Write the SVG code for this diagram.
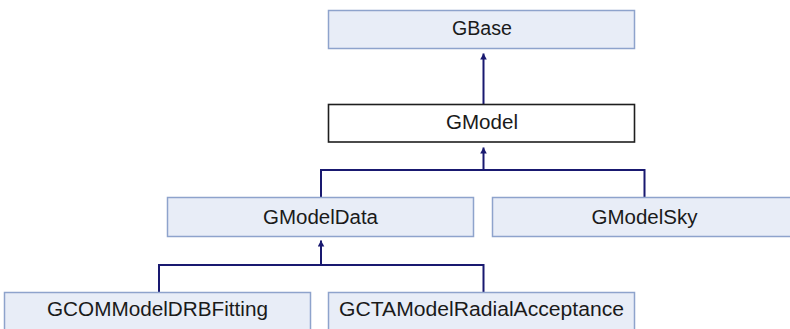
<svg xmlns="http://www.w3.org/2000/svg" width="790" height="329" viewBox="0 0 790 329">
<defs>
<style>
.node rect{fill:#e8edf7;stroke:#8ea3cc;stroke-width:1.5}
.node.cur rect{fill:#ffffff;stroke:#1e1e1e;stroke-width:1.6}
.node text{font-family:"Liberation Sans",Arial,sans-serif;font-size:20px;fill:#1a1a1a;text-anchor:middle}
#connectors path{fill:none;stroke:#191970;stroke-width:2}
</style>
<marker id="arr" markerUnits="userSpaceOnUse" markerWidth="7" markerHeight="7" refX="6" refY="3.3" orient="auto">
<path d="M0,0 L6,3.3 L0,6.6 z" fill="#191970"/>
</marker>
</defs>
<rect width="790" height="329" fill="#ffffff"/>
<g id="connectors">
<path d="M483.5 104 V53.5" marker-end="url(#arr)"/>
<path d="M321 197 V170 H644.5 V197"/>
<path d="M483.5 170 V147.5" marker-end="url(#arr)"/>
<path d="M159 292 V265 H483.5 V292"/>
<path d="M321 265 V240.5" marker-end="url(#arr)"/>
</g>
<g id="GBase" class="node"><rect x="328.5" y="10.5" width="306" height="38"/><text x="482" y="35" textLength="60" lengthAdjust="spacingAndGlyphs">GBase</text></g>
<g id="GModel" class="node cur"><rect x="328.5" y="104.5" width="306" height="37.5"/><text x="482" y="128.5" textLength="72" lengthAdjust="spacingAndGlyphs">GModel</text></g>
<g id="GModelData" class="node"><rect x="167.5" y="197.5" width="306" height="39"/><text x="320.5" y="224" textLength="115" lengthAdjust="spacingAndGlyphs">GModelData</text></g>
<g id="GModelSky" class="node"><rect x="492.5" y="197.5" width="306" height="39"/><text x="644.5" y="224" textLength="106" lengthAdjust="spacingAndGlyphs">GModelSky</text></g>
<g id="GCOMModelDRBFitting" class="node"><rect x="4.5" y="292.5" width="306" height="40"/><text x="157.5" y="316" textLength="221" lengthAdjust="spacingAndGlyphs">GCOMModelDRBFitting</text></g>
<g id="GCTAModelRadialAcceptance" class="node"><rect x="328.5" y="292.5" width="306" height="40"/><text x="481.5" y="316" textLength="285" lengthAdjust="spacingAndGlyphs">GCTAModelRadialAcceptance</text></g>
</svg>
